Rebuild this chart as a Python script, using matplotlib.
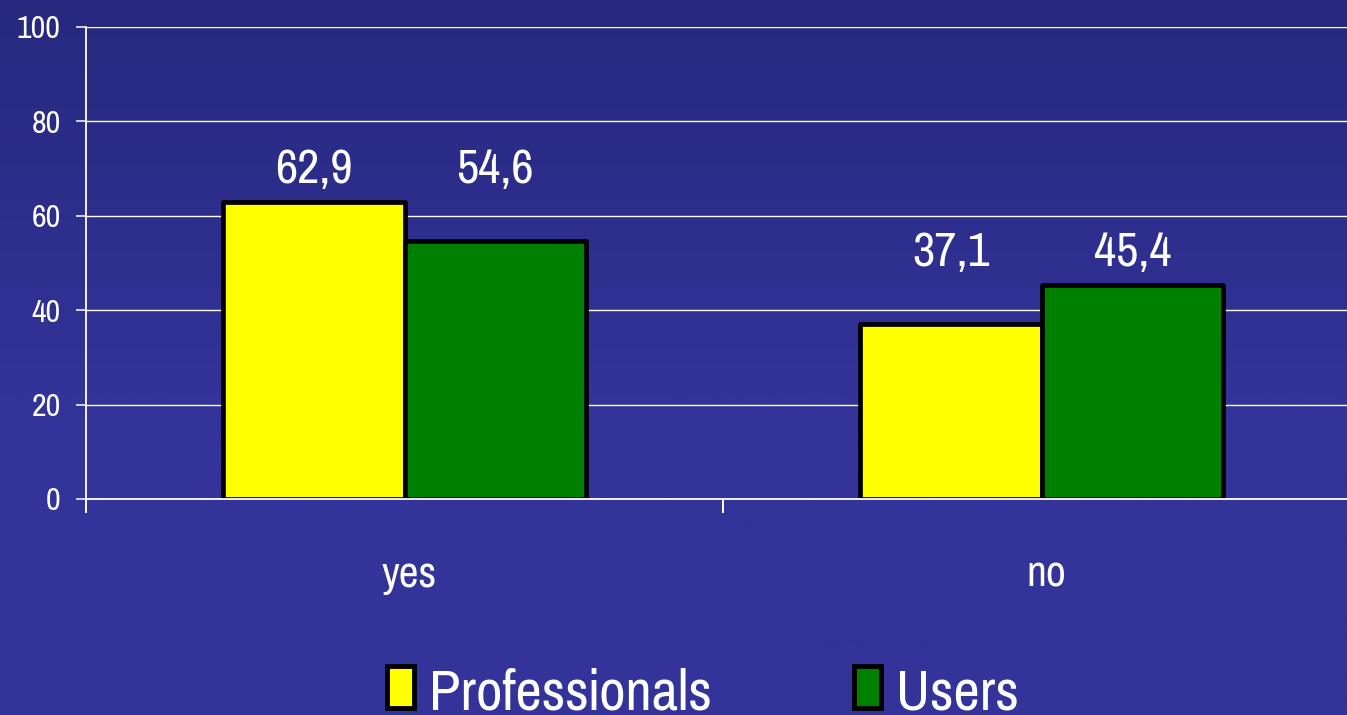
import numpy as np
import matplotlib
matplotlib.use("Agg")
import matplotlib.pyplot as plt
from matplotlib.patches import Rectangle
from matplotlib.colors import LinearSegmentedColormap
from matplotlib.transforms import ScaledTranslation
from matplotlib import font_manager as fm

# ---- data ----
categories = ["yes", "no"]
series_names = ["Professionals", "Users"]
professionals = [62.9, 37.1]
users = [54.6, 45.4]
value_labels_prof = ["62,9", "37,1"]
value_labels_users = ["54,6", "45,4"]
y_ticks = [0, 20, 40, 60, 80, 100]

colors = ["#FFFF00", "#008000"]
available = {f.name for f in fm.fontManager.ttflist}
candidates = ["Liberation Sans Narrow", "Arial Narrow", "Pragati Narrow", "Roboto Condensed",
              "Archivo Narrow", "PT Sans Narrow", "IBM Plex Sans Condensed"]
FONT = [f for f in candidates if f in available] + ["Liberation Sans", "DejaVu Sans"]
plt.rcParams["font.family"] = FONT

W, H = 1347, 715
fig = plt.figure(figsize=(W / 100, H / 100), dpi=100)

# background gradient
bg = fig.add_axes([0, 0, 1, 1], zorder=-10)
cmap = LinearSegmentedColormap.from_list("bg", [(0.0, "#333399"), (0.45, "#333399"), (1.0, "#27287e")])
grad = np.linspace(0, 1, 256).reshape(-1, 1)
bg.imshow(grad, aspect="auto", cmap=cmap, origin="lower", extent=[0, 1, 0, 1])
bg.set_axis_off()

left = 86 / W
right = 1360 / W
bottom = (H - 499) / H
top = (H - 27) / H
ax = fig.add_axes([left, bottom, right - left, top - bottom])
ax.set_facecolor("none")

x = np.arange(len(categories))
width = 0.285
off = 0.1425
ax.bar(x - off, professionals, width, color=colors[0], edgecolor="black",
       linewidth=3.4, joinstyle="round", zorder=3, label=series_names[0])
ax.bar(x + off, users, width, color=colors[1], edgecolor="black",
       linewidth=3.4, joinstyle="round", zorder=3, label=series_names[1])

# value labels just above the taller bar of each group
for i in range(len(categories)):
    ytxt = max(professionals[i], users[i]) + 4
    ax.text(x[i] - off, ytxt, value_labels_prof[i], ha="center", va="baseline",
            color="white", fontsize=38, zorder=5)
    ax.text(x[i] + off, ytxt, value_labels_users[i], ha="center", va="baseline",
            color="white", fontsize=38, zorder=5)

ax.set_xlim(-0.5, len(categories) - 0.5)
ax.set_ylim(0, 100)
ax.set_yticks(y_ticks)
ax.set_yticklabels([str(t) for t in y_ticks])
ax.tick_params(axis="y", colors="white", labelcolor="white", labelsize=25,
               length=7.2, width=1.1, pad=11, direction="out")
ax.yaxis.grid(True, color="white", linewidth=1.0, zorder=0)
ax.set_axisbelow(True)

ax.set_xticks(x)
ax.set_xticklabels(categories)
ax.tick_params(axis="x", which="major", length=0, labelsize=34, labelcolor="white", pad=40)
ax.set_xticks(np.arange(-0.5, len(categories)), minor=True)
ax.tick_params(axis="x", which="minor", length=10, width=1.4, color="white", direction="out")
shift = ScaledTranslation(5 / 100, 0, fig.dpi_scale_trans)
for lbl in ax.get_xticklabels():
    lbl.set_transform(lbl.get_transform() + shift)

for s in ["top", "right"]:
    ax.spines[s].set_visible(False)
for s in ["left", "bottom"]:
    ax.spines[s].set_color("white")
    ax.spines[s].set_linewidth(1.3)
    ax.spines[s].set_zorder(4)

handles = [Rectangle((0, 0), 1, 1, facecolor=colors[0], edgecolor="black", linewidth=3.5),
           Rectangle((0, 0), 1, 1, facecolor=colors[1], edgecolor="black", linewidth=3.5)]
leg = fig.legend(handles, series_names, loc="lower left", ncol=2,
                 bbox_to_anchor=(387 / W, -0.006), frameon=False, fontsize=45,
                 handlelength=0.43, handleheight=0.66, handletextpad=0.24,
                 columnspacing=2.28, borderpad=0, borderaxespad=0)
for t in leg.get_texts():
    t.set_color("white")

fig.savefig("out.png", dpi=100)
